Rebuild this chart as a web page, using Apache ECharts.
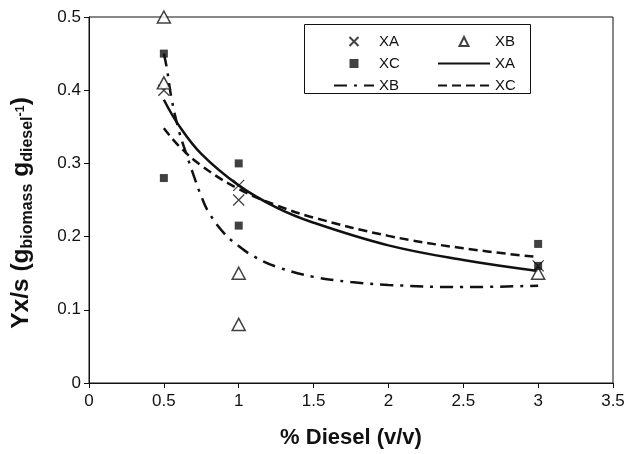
<!DOCTYPE html>
<html>
<head>
<meta charset="utf-8">
<script src="https://cdn.jsdelivr.net/npm/echarts@6/dist/echarts.min.js"></script>
<style>
  html, body { margin: 0; padding: 0; background: #fff; }
  #chart { width: 630px; height: 454px; }
</style>
</head>
<body>
<div id="chart"></div>
<script>
// measured points (x = % diesel, y = Yx/s)
const xaPts = [[0.5, 0.40], [1, 0.27], [1, 0.25], [3, 0.16]]
const xbPts = [[0.5, 0.50], [0.5, 0.41], [1, 0.15], [1, 0.08], [3, 0.15]]
const xcPts = [[0.5, 0.45], [0.5, 0.28], [1, 0.30], [1, 0.215], [3, 0.19], [3, 0.16]]

// trend lines
const xaFitX = [0.5, 0.6, 0.75, 1, 1.25, 1.5, 2, 2.5, 3]
const xaFitY = [0.387, 0.352, 0.313, 0.27, 0.240, 0.219, 0.188, 0.168, 0.153]
const xbFitX = [0.5, 0.52, 0.55, 0.6, 0.65, 0.7, 0.75, 0.8, 0.9, 1, 1.1, 1.25, 1.5, 1.75, 2, 2.5, 3]
const xbFitY = [0.45, 0.43, 0.39, 0.345, 0.313, 0.283, 0.255, 0.233, 0.205, 0.187, 0.173, 0.159, 0.145, 0.138, 0.134, 0.131, 0.133]
const xcFitX = [0.5, 0.6, 0.75, 1, 1.25, 1.5, 2, 2.5, 3]
const xcFitY = [0.348, 0.324, 0.297, 0.265, 0.243, 0.226, 0.201, 0.184, 0.172]

const xTicks = { min: 0, max: 3.5, interval: 0.5 }
const yTicks = { min: 0, max: 0.5, interval: 0.1 }

const font = "'Liberation Sans', Arial, Helvetica, sans-serif"
const ink = '#111'
const crossPath = 'path://M0,0L10,10M10,0L0,10'
const squarePath = 'path://M0,0L10,0L10,10L0,10Z'
const trianglePath = 'path://M5,0L10,10L0,10Z'

function pairs(xs, ys) {
  return xs.map((x, i) => [x, ys[i]])
}

const chart = echarts.init(document.getElementById('chart'), null, { renderer: 'canvas' })

// line entries in the legend: no marker in the middle
const noMarker = { color: 'transparent', borderColor: 'transparent', borderWidth: 0, opacity: 0 }

const legendBase = {
  orient: 'vertical',
  top: 28,
  itemHeight: 9,
  itemGap: 5,
  selectedMode: false,
  symbolKeepAspect: true,
  formatter: name => name.split('-')[0],
  textStyle: { fontFamily: font, fontSize: 15, color: ink, lineHeight: 17 }
}

const option = {
  animation: false,
  textStyle: { fontFamily: font },
  grid: {
    left: 89,
    right: 17,
    top: 17,
    bottom: 66,
    show: true,
    borderColor: ink,
    borderWidth: 1
  },
  legend: [
    Object.assign({}, legendBase, {
      left: 328,
      itemWidth: 40,
      data: [
        { name: 'XA-pts', icon: crossPath },
        { name: 'XC-pts', icon: squarePath },
        { name: 'XB-fit', itemStyle: noMarker }
      ]
    }),
    Object.assign({}, legendBase, {
      left: 432,
      itemWidth: 52,
      data: [
        { name: 'XB-pts', icon: trianglePath },
        { name: 'XA-fit', itemStyle: noMarker },
        { name: 'XC-fit', itemStyle: noMarker }
      ]
    })
  ],
  graphic: [
    {
      type: 'rect',
      shape: { x: 304.5, y: 24.5, width: 226, height: 69 },
      style: { fill: 'none', stroke: ink, lineWidth: 1 },
      z: 100
    },
    {
      type: 'text',
      x: 21,
      y: 213,
      rotation: Math.PI / 2,
      style: {
        text: '{b|Yx/s (g}{sub|biomass}{b| g}{sub|diesel}{sup|-1}{b|)}',
        align: 'center',
        verticalAlign: 'middle',
        fill: ink,
        rich: {
          b: { fontFamily: font, fontSize: 24.5, fontWeight: 'bold', lineHeight: 30, fill: ink },
          sub: { fontFamily: font, fontSize: 16, fontWeight: 'bold', lineHeight: 8, verticalAlign: 'bottom', fill: ink },
          sup: { fontFamily: font, fontSize: 12.5, fontWeight: 'bold', lineHeight: 20, verticalAlign: 'middle', fill: ink }
        }
      }
    }
  ],
  xAxis: {
    type: 'value',
    min: xTicks.min,
    max: xTicks.max,
    interval: xTicks.interval,
    name: '% Diesel (v/v)',
    nameLocation: 'middle',
    nameGap: 44,
    nameTextStyle: { fontFamily: font, fontSize: 22, fontWeight: 'bold', color: ink },
    axisLine: { onZero: false, lineStyle: { color: ink, width: 1 } },
    axisTick: { length: 5, lineStyle: { color: ink } },
    axisLabel: { margin: 10, fontFamily: font, fontSize: 17, color: ink },
    splitLine: { show: false }
  },
  yAxis: {
    type: 'value',
    min: yTicks.min,
    max: yTicks.max,
    interval: yTicks.interval,
    axisLine: { show: true, onZero: false, lineStyle: { color: ink, width: 1 } },
    axisTick: { show: true, length: 5, lineStyle: { color: ink } },
    axisLabel: { margin: 8, fontFamily: font, fontSize: 17, color: ink },
    splitLine: { show: false }
  },
  series: [
    {
      name: 'XA-fit',
      type: 'line',
      data: pairs(xaFitX, xaFitY),
      smooth: 0.4,
      symbol: 'none',
      lineStyle: { color: ink, width: 2.5, type: 'solid' },
      z: 2
    },
    {
      name: 'XB-fit',
      type: 'line',
      data: pairs(xbFitX, xbFitY),
      smooth: 0.4,
      symbol: 'none',
      lineStyle: { color: ink, width: 2.5, type: [13, 7, 3, 7] },
      z: 2
    },
    {
      name: 'XC-fit',
      type: 'line',
      data: pairs(xcFitX, xcFitY),
      smooth: 0.4,
      symbol: 'none',
      lineStyle: { color: ink, width: 2.5, type: [9, 5] },
      z: 2
    },
    {
      name: 'XA-pts',
      type: 'scatter',
      data: xaPts,
      symbol: crossPath,
      symbolSize: 11,
      itemStyle: { color: ink, borderColor: ink, borderWidth: 1.3 },
      z: 5
    },
    {
      name: 'XB-pts',
      type: 'scatter',
      data: xbPts,
      symbol: 'triangle',
      symbolSize: [13, 12],
      itemStyle: { color: '#fff', borderColor: ink, borderWidth: 1.5 },
      z: 5
    },
    {
      name: 'XC-pts',
      type: 'scatter',
      data: xcPts,
      symbol: 'rect',
      symbolSize: 8,
      itemStyle: { color: ink },
      z: 5
    }
  ]
}

chart.setOption(option)
</script>
</body>
</html>
